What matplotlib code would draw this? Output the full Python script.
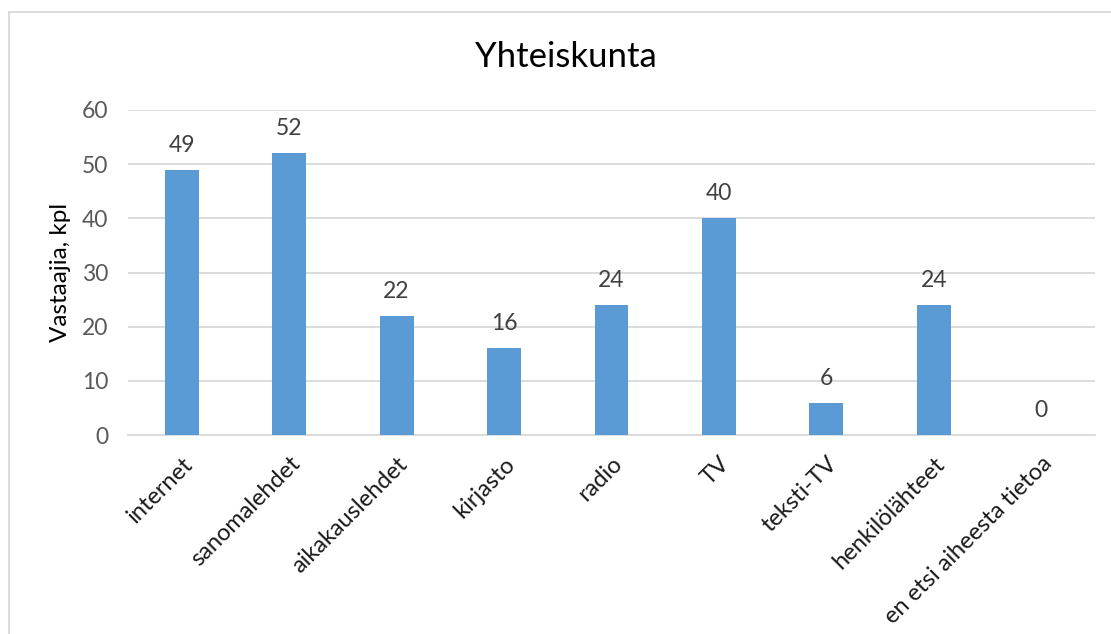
import matplotlib
matplotlib.use("Agg")
import matplotlib.pyplot as plt

categories = ["internet", "sanomalehdet", "aikakauslehdet", "kirjasto", "radio",
              "TV", "teksti-TV", "henkilölähteet", "en etsi aiheesta tietoa"]
values = [49, 52, 22, 16, 24, 40, 6, 24, 0]
yticks = [0, 10, 20, 30, 40, 50, 60]

plt.rcParams['font.family'] = ['Lato', 'DejaVu Sans']

W, H = 1111, 634
fig = plt.figure(figsize=(W / 100, H / 100), dpi=100)
ax = fig.add_axes([128 / W, 1 - 435 / H, (1095 - 128) / W, (435 - 110) / H])

x = list(range(len(categories)))
ax.bar(x, values, width=0.316, color="#5B9BD5", zorder=3)
ax.set_xlim(-0.5, len(categories) - 0.5)
ax.set_ylim(0, 60)
ax.set_yticks(yticks)
ax.set_yticklabels([str(t) for t in yticks], fontsize=16.5, color="#595959")
ax.yaxis.grid(True, color="#D9D9D9", linewidth=1.3, zorder=0)
ax.set_axisbelow(True)
for s in ["top", "right", "left"]:
    ax.spines[s].set_visible(False)
ax.spines["bottom"].set_color("#D9D9D9")
ax.spines["bottom"].set_linewidth(1.3)
ax.tick_params(axis="y", length=0, pad=14)
ax.tick_params(axis="x", length=0, pad=13)
ax.set_xticks(x)
ax.set_xticklabels(categories, rotation=45, ha="right", rotation_mode="anchor",
                   fontsize=17, color="#1a1a1a")
for xi, v in zip(x, values):
    ax.annotate(str(v), (xi, v), xytext=(0, 10), textcoords="offset points",
                ha="center", va="bottom", fontsize=16.5, color="#404040")

ax.set_ylabel("Vastaajia, kpl", fontsize=17.5, color="#000000", labelpad=8)
fig.text(566 / W, 1 - 57 / H, "Yhteiskunta", ha="center", va="center",
         fontsize=25, color="#000000")

# outer chart border (left and top visible)
fig.add_artist(plt.Line2D([8.5 / W, 8.5 / W], [0, 1 - 12 / H], transform=fig.transFigure,
                          color="#D9D9D9", linewidth=1.3))
fig.add_artist(plt.Line2D([8.5 / W, 1], [1 - 12 / H, 1 - 12 / H], transform=fig.transFigure,
                          color="#D9D9D9", linewidth=1.3))

fig.savefig("out.png", dpi=100)
